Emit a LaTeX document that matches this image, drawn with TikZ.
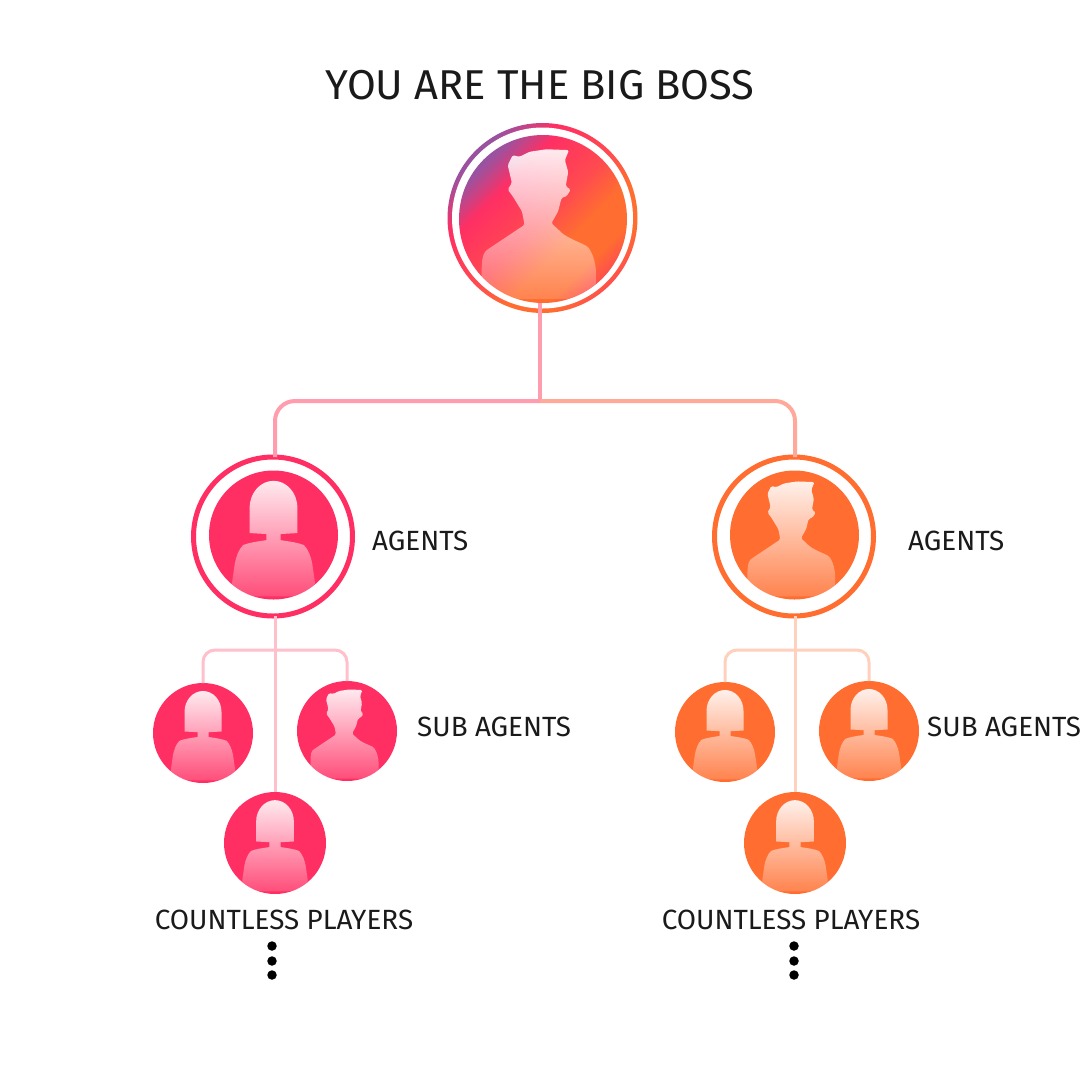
\documentclass[tikz,border=0pt]{standalone}
\usepackage{fontspec}
\setmainfont{Fira Sans}
\usepackage{xcolor}
\usetikzlibrary{fadings}
\definecolor{rose}{HTML}{FF2F63}
\definecolor{tangerine}{HTML}{FF6E30}
\definecolor{rosewire}{HTML}{FF9DAE}
\definecolor{rosetwig}{HTML}{FFBFCB}
\definecolor{tanwire}{HTML}{FFA99A}
\definecolor{tantwig}{HTML}{FFD0BC}
\definecolor{ink}{HTML}{1A1A1A}
\definecolor{bosspurple}{HTML}{9A52A0}
\definecolor{bossmid}{HTML}{FF4A50}
\pgfdeclarehorizontalshading{bossgrad}{100bp}{color(0bp)=(bosspurple); color(26bp)=(bosspurple); color(35bp)=(rose); color(50bp)=(bossmid); color(60bp)=(tangerine); color(69bp)=(tangerine); color(76bp)=(bossmid); color(100bp)=(bossmid)}
\tikzfading[name=silfade, top color=transparent!10, bottom color=transparent!85]
\tikzset{
  woman/.pic={
    \clip (0,0) circle (1);
    \fill[white, path fading=silfade] (-.11,.015) -- (-.37,.03) -- (-.37,.42)
      .. controls (-.37,.66) and (-.2,.84) .. (0,.84)
      .. controls (.2,.84) and (.37,.66) .. (.37,.42) -- (.37,.03) -- (.11,.015) -- (.11,-.08)
      .. controls (.25,-.1) and (.38,-.12) .. (.47,-.155)
      .. controls (.54,-.22) and (.58,-.34) .. (.6,-.44)
      -- (.64,-.72) -- (.64,-.95) -- (-.64,-.95) -- (-.64,-.72) -- (-.6,-.44)
      .. controls (-.58,-.34) and (-.54,-.22) .. (-.47,-.155)
      .. controls (-.38,-.12) and (-.25,-.1) .. (-.11,-.08) -- cycle;
  },
  man/.pic={
    \clip (0,0) circle (1);
    \fill[white, path fading=silfade, rounded corners=1.5pt] (.31,.82) -- (.26,.70) -- (.30,.56) -- (.27,.39)
      -- (.33,.35) -- (.28,.27) -- (.22,.25) -- (.18,.09) -- (.10,-.05) -- (.24,-.18)
      .. controls (.4,-.28) and (.52,-.3) .. (.56,-.37) .. controls (.6,-.44) and (.63,-.55) .. (.63,-.65)
      -- (.63,-.95) -- (-.73,-.95) -- (-.73,-.65)
      .. controls (-.73,-.5) and (-.72,-.42) .. (-.67,-.37) -- (-.22,-.07) -- (-.25,.09) -- (-.36,.27)
      -- (-.42,.35) -- (-.37,.43) -- (-.42,.64) -- (-.36,.76) -- (-.28,.74) -- (-.16,.80) -- (.04,.83) -- cycle;
  },
}
\begin{document}
\begin{tikzpicture}[
    x=1pt, y=-1pt,
    font=\fontsize{27.8}{30}\selectfont,
    disc/.style 2 args={circle, fill=#1, minimum size=#2, inner sep=0pt, outer sep=0pt},
    halo/.style 2 args={circle, draw=#1, line width=5pt, fill=white, minimum size=#2, inner sep=0pt, outer sep=0pt},
    bossdisc/.style={circle, shade, shading=bossgrad, shading angle=-45, minimum size=#1, inner sep=0pt, outer sep=0pt},
    face/.style={xscale=#1, yscale=-#1},
    wire/.style={draw=#1, line width=4pt, rounded corners=20pt},
    twig/.style={draw=#1, line width=3pt, rounded corners=12pt},
    tag/.style={anchor=base west, inner sep=0pt, text=ink},
    more/.style={circle, fill=black, minimum size=9.5pt, inner sep=0pt},
  ]
  \useasboundingbox (0,0) rectangle (1080,1080);
  \fill[white] (0,0) rectangle (1080,1080);
  % wires
  \coordinate (bus) at (540,401);
  \coordinate (forkl) at (275,650);
  \coordinate (forkr) at (795,650);
  \node[bossdisc=190pt] (bossring) at (542.5,218) {};
  \node[disc={white}{181pt}] (bossgap) at (542.5,218) {};
  \node[bossdisc=168pt] (boss) at (543,219) {};
  \node[halo={rose}{159pt}] (agentl) at (273,536.5) {};
  \node[halo={tangerine}{159pt}] (agentr) at (794,536.5) {};
  \node[disc={rose}{100pt}] (subla) at (203,733) {};
  \node[disc={rose}{100pt}] (sublb) at (347,731) {};
  \node[disc={rose}{102pt}] (playl) at (275,843) {};
  \node[disc={tangerine}{100pt}] (subra) at (725,732) {};
  \node[disc={tangerine}{100pt}] (subrb) at (869,731) {};
  \node[disc={tangerine}{102pt}] (playr) at (795,843) {};
  \draw[draw=rosewire, line width=4pt] (boss.south -| bus) -- (bus);
  \draw[wire=rosewire] (bus) -| (agentl.north -| forkl);
  \draw[wire=tanwire] (bus) -| (agentr.north -| forkr);
  \draw[draw=rosetwig, line width=3pt] (agentl.south -| forkl) -- (playl.north -| forkl);
  \draw[draw=tantwig, line width=3pt] (agentr.south -| forkr) -- (playr.north -| forkr);
  \draw[twig=rosetwig] (subla.north) |- (forkl) -| (sublb.north);
  \draw[twig=tantwig] (subra.north) |- (forkr) -| (subrb.north);
  % faces
  \node[disc={rose}{129pt}] (facel) at (273.5,535) {};
  \node[disc={tangerine}{129pt}] (facer) at (794.5,535) {};
  \pic[face=84] at (boss) {man};
  \pic[face=64.5] at (facel) {woman};
  \pic[face=64.5] at (facer) {man};
  \pic[face=50] at (subla) {woman};
  \pic[face=50] at (sublb) {man};
  \pic[face=51] at (playl) {woman};
  \pic[face=50] at (subra) {woman};
  \pic[face=50] at (subrb) {woman};
  \pic[face=51] at (playr) {woman};
  % labels
  \node[text=ink, inner sep=0pt, anchor=base, font=\fontsize{41.7}{44}\selectfont] (title) at (540,99) {YOU ARE THE BIG BOSS};
  \node[tag] (agentltag) at (372,550) {AGENTS};
  \node[tag] (agentrtag) at (908,550) {AGENTS};
  \node[tag] (subltag) at (417,736) {SUB AGENTS};
  \node[tag] (subrtag) at (927,736) {SUB AGENTS};
  \node[tag, anchor=base] (playltag) at (284,929) {COUNTLESS PLAYERS};
  \node[tag, anchor=base] (playrtag) at (791,929) {COUNTLESS PLAYERS};
  \foreach \y [count=\i] in {946,961,975} {
    \node[more] (dotl\i) at (272,\y) {};
    \node[more] (dotr\i) at (794,\y) {};
  }
\end{tikzpicture}
\end{document}
